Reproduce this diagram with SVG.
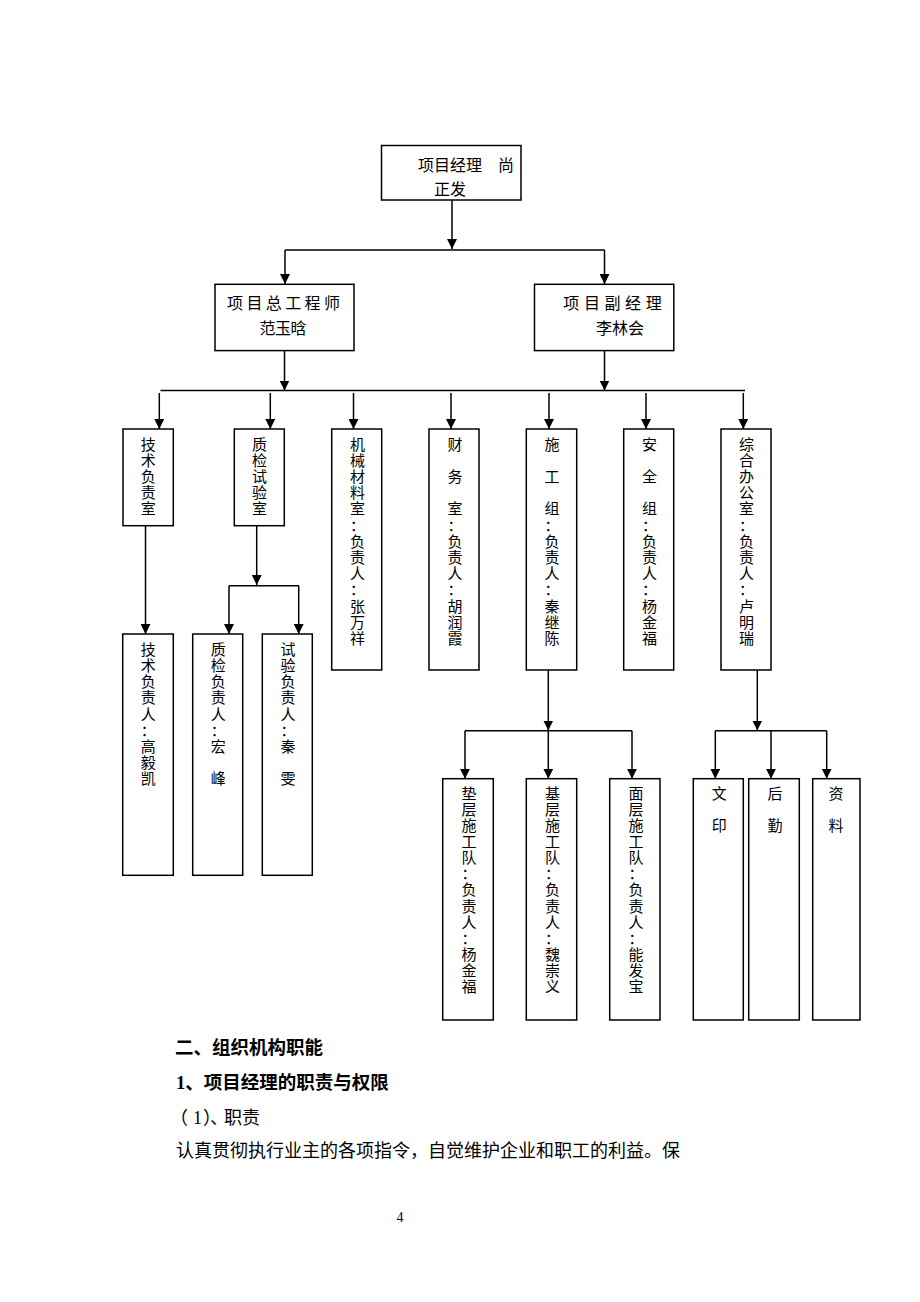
<svg xmlns="http://www.w3.org/2000/svg" width="920" height="1302" viewBox="0 0 920 1302">
<style>
  .box { fill: #ffffff; stroke: #000000; stroke-width: 1.5; }
  .cn { font-family: "Noto Sans CJK SC", "Liberation Sans", sans-serif; fill: #000000; }
  .lab { font-size: 16px; }
  .v { font-size: 15px; text-anchor: middle; }
  .conn { fill: none; stroke: #000000; stroke-width: 1.5; }
  .arr { marker-end: url(#ah); }
  .h { font-family: "Liberation Serif", "Noto Sans CJK SC", serif; font-weight: bold; font-size: 18.5px; fill: #000000; }
  .body { font-family: "Liberation Serif", "Noto Sans CJK SC", serif; font-size: 18px; fill: #000000; }
  .pg { font-family: "Liberation Serif", serif; font-size: 14px; fill: #000000; text-anchor: middle; }
</style>
<defs>
  <marker id="ah" markerUnits="userSpaceOnUse" markerWidth="10" markerHeight="10" refX="10" refY="5" orient="auto">
    <path d="M0,0 L10,5 L0,10 Z" fill="#000000"/>
  </marker>
</defs>
<rect x="0" y="0" width="920" height="1302" fill="#ffffff"/>

<g id="connectors">
  <path class="conn arr" d="M452,200 V249"/>
  <path class="conn" d="M285,250 H604.5"/>
  <path class="conn arr" d="M285,250 V284"/>
  <path class="conn arr" d="M604.5,250 V284"/>
  <path class="conn arr" d="M284.5,350 V390.5"/>
  <path class="conn arr" d="M604.5,350 V390.5"/>
  <path class="conn" d="M160.5,390.5 H745"/>
  <path class="conn arr" d="M159.3,393 V429"/>
  <path class="conn arr" d="M270.3,393 V429"/>
  <path class="conn arr" d="M353.5,393 V429"/>
  <path class="conn arr" d="M451,393 V429"/>
  <path class="conn arr" d="M549,393 V429"/>
  <path class="conn arr" d="M646,393 V429"/>
  <path class="conn arr" d="M743.3,393 V429"/>
  <path class="conn arr" d="M145.5,525.7 V634"/>
  <path class="conn arr" d="M256.7,525.7 V585"/>
  <path class="conn" d="M229,585.7 H299"/>
  <path class="conn arr" d="M229,585.7 V634"/>
  <path class="conn arr" d="M298.7,585.7 V634"/>
  <path class="conn arr" d="M548.3,670 V730.5"/>
  <path class="conn" d="M465,730.7 H632"/>
  <path class="conn arr" d="M465,730.7 V778.7"/>
  <path class="conn arr" d="M548.3,730.7 V778.7"/>
  <path class="conn arr" d="M632,730.7 V778.7"/>
  <path class="conn arr" d="M757.3,670 V730.5"/>
  <path class="conn" d="M715.3,730.7 H826.7"/>
  <path class="conn arr" d="M715.3,730.7 V778.7"/>
  <path class="conn arr" d="M771,730.7 V778.7"/>
  <path class="conn arr" d="M826.7,730.7 V778.7"/>
</g>

<g id="pm">
  <rect class="box" x="381.5" y="145.5" width="139.5" height="54.5"/>
  <text class="cn lab" x="418" y="171">项目经理　尚</text>
  <text class="cn lab" x="434" y="195.3">正发</text>
</g>

<g id="chief-engineer">
  <rect class="box" x="215" y="284.3" width="139" height="66.3"/>
  <text class="cn lab" x="227" y="309.3" letter-spacing="3.4">项目总工程师</text>
  <text class="cn lab" x="259.5" y="334.3" letter-spacing="-0.5">范玉晗</text>
</g>

<g id="deputy-pm">
  <rect class="box" x="534.5" y="284.3" width="139.3" height="66.3"/>
  <text class="cn lab" x="563.3" y="309.3" letter-spacing="4.6">项目副经理</text>
  <text class="cn lab" x="596" y="334.3">李林会</text>
</g>

<g id="tech-office">
  <rect class="box" x="123" y="429" width="50.3" height="96.7"/>
  <text class="cn v" x="148.3" y="449.5"><tspan x="148.3">技</tspan><tspan x="148.3" dy="16.2">术</tspan><tspan x="148.3" dy="16.2">负</tspan><tspan x="148.3" dy="16.2">责</tspan><tspan x="148.3" dy="16.2">室</tspan></text>
</g>

<g id="qc-lab">
  <rect class="box" x="234.3" y="429" width="50" height="96.7"/>
  <text class="cn v" x="259.5" y="449.5"><tspan x="259.5">质</tspan><tspan x="259.5" dy="16.2">检</tspan><tspan x="259.5" dy="16.2">试</tspan><tspan x="259.5" dy="16.2">验</tspan><tspan x="259.5" dy="16.2">室</tspan></text>
</g>

<g id="machinery">
  <rect class="box" x="331.7" y="429" width="50" height="241"/>
  <text class="cn v" x="357.5" y="449.5"><tspan x="357.5">机</tspan><tspan x="357.5" dy="16.2">械</tspan><tspan x="357.5" dy="16.2">材</tspan><tspan x="357.5" dy="16.2">料</tspan><tspan x="357.5" dy="16.2">室</tspan><tspan x="357.5" dy="16.2">：</tspan><tspan x="357.5" dy="16.2">负</tspan><tspan x="357.5" dy="16.2">责</tspan><tspan x="357.5" dy="16.2">人</tspan><tspan x="357.5" dy="16.2">：</tspan><tspan x="357.5" dy="16.2">张</tspan><tspan x="357.5" dy="16.2">万</tspan><tspan x="357.5" dy="16.2">祥</tspan></text>
</g>

<g id="finance">
  <rect class="box" x="429" y="429" width="50" height="241"/>
  <text class="cn v" x="455" y="449.5"><tspan x="455">财</tspan><tspan x="455" dy="32.4">务</tspan><tspan x="455" dy="32.4">室</tspan><tspan x="455" dy="16.2">：</tspan><tspan x="455" dy="16.2">负</tspan><tspan x="455" dy="16.2">责</tspan><tspan x="455" dy="16.2">人</tspan><tspan x="455" dy="16.2">：</tspan><tspan x="455" dy="16.2">胡</tspan><tspan x="455" dy="16.2">润</tspan><tspan x="455" dy="16.2">霞</tspan></text>
</g>

<g id="construction">
  <rect class="box" x="526.3" y="429" width="50.4" height="241"/>
  <text class="cn v" x="552" y="449.5"><tspan x="552">施</tspan><tspan x="552" dy="32.4">工</tspan><tspan x="552" dy="32.4">组</tspan><tspan x="552" dy="16.2">：</tspan><tspan x="552" dy="16.2">负</tspan><tspan x="552" dy="16.2">责</tspan><tspan x="552" dy="16.2">人</tspan><tspan x="552" dy="16.2">：</tspan><tspan x="552" dy="16.2">秦</tspan><tspan x="552" dy="16.2">继</tspan><tspan x="552" dy="16.2">陈</tspan></text>
</g>

<g id="safety">
  <rect class="box" x="623.7" y="429" width="50" height="241"/>
  <text class="cn v" x="649.5" y="449.5"><tspan x="649.5">安</tspan><tspan x="649.5" dy="32.4">全</tspan><tspan x="649.5" dy="32.4">组</tspan><tspan x="649.5" dy="16.2">：</tspan><tspan x="649.5" dy="16.2">负</tspan><tspan x="649.5" dy="16.2">责</tspan><tspan x="649.5" dy="16.2">人</tspan><tspan x="649.5" dy="16.2">：</tspan><tspan x="649.5" dy="16.2">杨</tspan><tspan x="649.5" dy="16.2">金</tspan><tspan x="649.5" dy="16.2">福</tspan></text>
</g>

<g id="admin">
  <rect class="box" x="721" y="429" width="50" height="241"/>
  <text class="cn v" x="746.5" y="449.5"><tspan x="746.5">综</tspan><tspan x="746.5" dy="16.2">合</tspan><tspan x="746.5" dy="16.2">办</tspan><tspan x="746.5" dy="16.2">公</tspan><tspan x="746.5" dy="16.2">室</tspan><tspan x="746.5" dy="16.2">：</tspan><tspan x="746.5" dy="16.2">负</tspan><tspan x="746.5" dy="16.2">责</tspan><tspan x="746.5" dy="16.2">人</tspan><tspan x="746.5" dy="16.2">：</tspan><tspan x="746.5" dy="16.2">卢</tspan><tspan x="746.5" dy="16.2">明</tspan><tspan x="746.5" dy="16.2">瑞</tspan></text>
</g>

<g id="tech-lead">
  <rect class="box" x="122.7" y="634" width="50.6" height="241.3"/>
  <text class="cn v" x="148.3" y="654.8"><tspan x="148.3">技</tspan><tspan x="148.3" dy="16.2">术</tspan><tspan x="148.3" dy="16.2">负</tspan><tspan x="148.3" dy="16.2">责</tspan><tspan x="148.3" dy="16.2">人</tspan><tspan x="148.3" dy="16.2">：</tspan><tspan x="148.3" dy="16.2">高</tspan><tspan x="148.3" dy="16.2">毅</tspan><tspan x="148.3" dy="16.2">凯</tspan></text>
</g>

<g id="qc-lead">
  <rect class="box" x="192.7" y="634" width="50" height="241.3"/>
  <text class="cn v" x="218.3" y="654.8"><tspan x="218.3">质</tspan><tspan x="218.3" dy="16.2">检</tspan><tspan x="218.3" dy="16.2">负</tspan><tspan x="218.3" dy="16.2">责</tspan><tspan x="218.3" dy="16.2">人</tspan><tspan x="218.3" dy="16.2">：</tspan><tspan x="218.3" dy="16.2">宏</tspan><tspan x="218.3" dy="32.4">峰</tspan></text>
</g>

<g id="test-lead">
  <rect class="box" x="262.3" y="634" width="50" height="241.3"/>
  <text class="cn v" x="288" y="654.8"><tspan x="288">试</tspan><tspan x="288" dy="16.2">验</tspan><tspan x="288" dy="16.2">负</tspan><tspan x="288" dy="16.2">责</tspan><tspan x="288" dy="16.2">人</tspan><tspan x="288" dy="16.2">：</tspan><tspan x="288" dy="16.2">秦</tspan><tspan x="288" dy="32.4">雯</tspan></text>
</g>

<g id="cushion-team">
  <rect class="box" x="442.7" y="778.7" width="50.6" height="241.3"/>
  <text class="cn v" x="469" y="798.8"><tspan x="469">垫</tspan><tspan x="469" dy="16.1">层</tspan><tspan x="469" dy="16.1">施</tspan><tspan x="469" dy="16.1">工</tspan><tspan x="469" dy="16.1">队</tspan><tspan x="469" dy="16.1">：</tspan><tspan x="469" dy="16.1">负</tspan><tspan x="469" dy="16.1">责</tspan><tspan x="469" dy="16.1">人</tspan><tspan x="469" dy="16.1">：</tspan><tspan x="469" dy="16.1">杨</tspan><tspan x="469" dy="16.1">金</tspan><tspan x="469" dy="16.1">福</tspan></text>
</g>

<g id="base-team">
  <rect class="box" x="526.3" y="778.7" width="50.4" height="241.3"/>
  <text class="cn v" x="552.5" y="798.8"><tspan x="552.5">基</tspan><tspan x="552.5" dy="16.1">层</tspan><tspan x="552.5" dy="16.1">施</tspan><tspan x="552.5" dy="16.1">工</tspan><tspan x="552.5" dy="16.1">队</tspan><tspan x="552.5" dy="16.1">：</tspan><tspan x="552.5" dy="16.1">负</tspan><tspan x="552.5" dy="16.1">责</tspan><tspan x="552.5" dy="16.1">人</tspan><tspan x="552.5" dy="16.1">：</tspan><tspan x="552.5" dy="16.1">魏</tspan><tspan x="552.5" dy="16.1">崇</tspan><tspan x="552.5" dy="16.1">义</tspan></text>
</g>

<g id="surface-team">
  <rect class="box" x="609.7" y="778.7" width="50.3" height="241.3"/>
  <text class="cn v" x="636" y="798.8"><tspan x="636">面</tspan><tspan x="636" dy="16.1">层</tspan><tspan x="636" dy="16.1">施</tspan><tspan x="636" dy="16.1">工</tspan><tspan x="636" dy="16.1">队</tspan><tspan x="636" dy="16.1">：</tspan><tspan x="636" dy="16.1">负</tspan><tspan x="636" dy="16.1">责</tspan><tspan x="636" dy="16.1">人</tspan><tspan x="636" dy="16.1">：</tspan><tspan x="636" dy="16.1">能</tspan><tspan x="636" dy="16.1">发</tspan><tspan x="636" dy="16.1">宝</tspan></text>
</g>

<g id="printing">
  <rect class="box" x="693.3" y="778.7" width="50" height="241.3"/>
  <text class="cn v" x="719.3" y="798.8"><tspan x="719.3">文</tspan><tspan x="719.3" dy="32.2">印</tspan></text>
</g>

<g id="logistics">
  <rect class="box" x="748.7" y="778.7" width="50.6" height="241.3"/>
  <text class="cn v" x="775" y="798.8"><tspan x="775">后</tspan><tspan x="775" dy="32.2">勤</tspan></text>
</g>

<g id="documents">
  <rect class="box" x="812.7" y="778.7" width="47.3" height="241.3"/>
  <text class="cn v" x="836" y="798.8"><tspan x="836">资</tspan><tspan x="836" dy="32.2">料</tspan></text>
</g>

<g id="page-text">
  <text class="h" x="175" y="1053.7">二、组织机构职能</text>
  <text class="h" x="176" y="1088.7">1、项目经理的职责与权限</text>
  <text class="body" x="170 193 203 210 224 242" y="1123.5">（1）、职责</text>
  <text class="body" x="176" y="1157">认真贯彻执行业主的各项指令，自觉维护企业和职工的利益。保</text>
  <text class="pg" x="400" y="1221.5">4</text>
</g>
</svg>
